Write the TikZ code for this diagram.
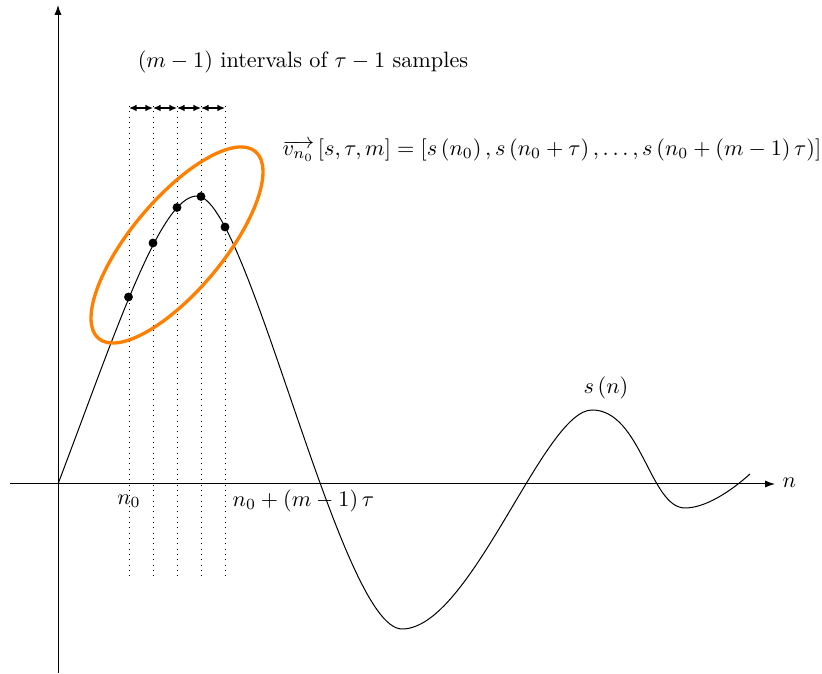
\documentclass[tikz,border=0pt]{standalone}
\usetikzlibrary{arrows.meta}
\definecolor{orng}{RGB}{255,128,0}
\begin{document}
\begin{tikzpicture}[x=0.45pt,y=-0.45pt,
  axis/.style={-{Latex[length=4.5pt,width=3.2pt]},line width=0.45pt},
  guide/.style={dotted,line width=0.4pt},
  gap/.style={{Latex[length=3.4pt,width=3pt]}-{Latex[length=3.4pt,width=3pt]},line width=0.6pt},
  sample/.style={circle,fill=black,inner sep=0pt,minimum size=4pt},
  lbl/.style={inner sep=1pt}]
\useasboundingbox (0,0) rectangle (822,674);
% axes
\coordinate (xs) at (10,484);
\coordinate (xe) at (775,484);
\coordinate (ys) at (58,673);
\coordinate (ye) at (58,5);
\draw[axis] (xs) -- (xe);
\draw[axis] (ys) -- (ye);
\node[lbl,anchor=west] (nlab) at (780,483) {$n$};
% dotted guides
\foreach \i/\x in {1/129,2/153,3/177,4/201,5/225}{
  \coordinate (gt\i) at (\x,106);
  \coordinate (gb\i) at (\x,580);
  \draw[guide] (gt\i) -- (gb\i);
  \coordinate (ga\i) at (\x,108);
}
\foreach \a/\b in {1/2,2/3,3/4,4/5}{
  \draw[gap] (ga\a) -- (ga\b);
}
\node[lbl] (intv) at (303,62) {$(m-1)$ intervals of $\tau-1$ samples};
% curve
\coordinate (c0) at (58,484);
\coordinate (c1) at (197,196);
\coordinate (c2) at (402,629);
\coordinate (c3) at (592,410);
\coordinate (c4) at (685,508);
\coordinate (c5) at (750,474);
\draw[line width=0.45pt] (c0) .. controls (115,334) and (160,196) .. (c1)
  .. controls (248,196) and (340,629) .. (c2)
  .. controls (471,629) and (543.5,410) .. (c3)
  .. controls (641,410) and (650,508) .. (c4)
  .. controls (705,508) and (730,492) .. (c5);
% samples
\node[sample] (p1) at (128.5,297) {};
\node[sample] (p2) at (153,243) {};
\node[sample] (p3) at (177,207.5) {};
\node[sample] (p4) at (201,196.5) {};
\node[sample] (p5) at (225,227) {};
% ellipse
\draw[orng,line width=1.5pt,rotate around={50:(177,245)}] (177,245) ellipse [x radius=122, y radius=46];
% labels
\node[lbl] (fml) at (552,150) {$\overrightarrow{v_{n_0}}\left[s,\tau,m\right]=\left[s\left(n_0\right),s\left(n_0+\tau\right),\dots,s\left(n_0+\left(m-1\right)\tau\right)\right]$};
\node[lbl] (n0) at (129,501) {$n_0$};
\node[lbl,anchor=west] (n0m) at (230,501) {$n_0+\left(m-1\right)\tau$};
\node[lbl] (sn) at (606,388) {$s\left(n\right)$};
\end{tikzpicture}
\end{document}
